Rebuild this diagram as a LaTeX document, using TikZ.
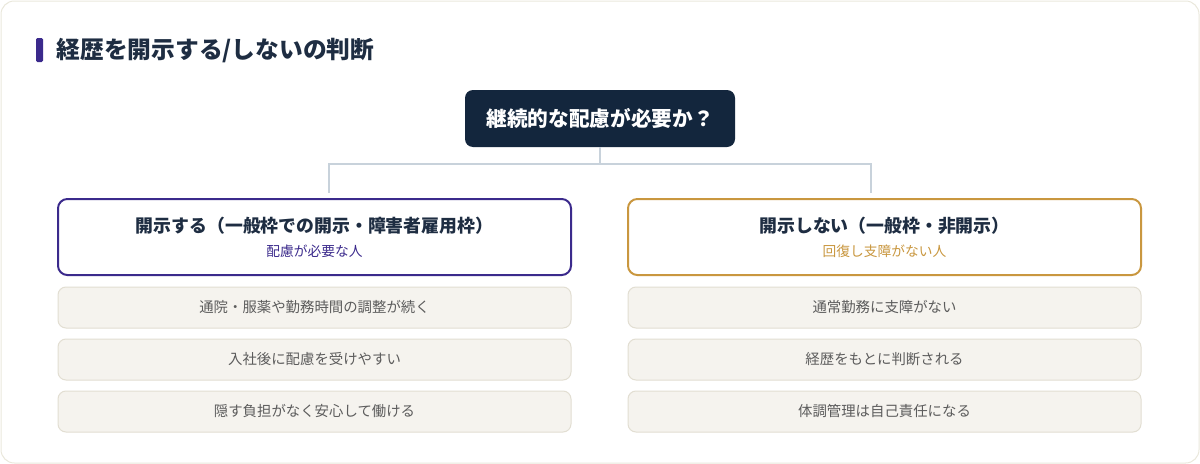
\documentclass[tikz,border=0pt]{standalone}
\usepackage{fontspec}
\setmainfont{Noto Sans CJK JP}
\definecolor{navy}{HTML}{13263D}
\definecolor{ink}{HTML}{1E2D42}
\definecolor{violet}{HTML}{3B2A8C}
\definecolor{gold}{HTML}{C9973F}
\definecolor{itemfill}{HTML}{F5F3EE}
\definecolor{itemline}{HTML}{E2DED2}
\definecolor{itemtext}{HTML}{5C5C5C}
\definecolor{wire}{HTML}{C8D2DB}
\definecolor{cardline}{HTML}{EAE8DC}
\tikzset{
  head/.style={draw, line width=1.5pt, fill=white, rounded corners=7pt,
    minimum width=384.75pt, minimum height=57pt, align=center},
  item/.style={draw=itemline, line width=.75pt, fill=itemfill, rounded corners=6pt,
    minimum width=384.75pt, minimum height=30.75pt, text=itemtext,
    font=\fontsize{10.8}{13}\selectfont},
  link/.style={draw=wire, line width=1.5pt}
}
\begin{document}
\begin{tikzpicture}[x=0.75pt,y=-0.75pt]
  \path[use as bounding box] (0,0) rectangle (1200,464);
  \draw[cardline, fill=white, line width=.75pt, rounded corners=10pt] (1,1) rectangle (1199,463);
  % title
  \fill[violet, rounded corners=1pt] (36,38) rectangle (43,62);
  \node[anchor=west, text=ink, font=\fontsize{17.8}{21}\selectfont\bfseries] (title) at (52,51) {経歴を開示する/しないの判断};
  % question
  \node[fill=navy, rounded corners=6pt, minimum width=202.5pt, minimum height=42.75pt,
    text=white, font=\fontsize{15.5}{18}\selectfont\bfseries] (q) at (600,118.5) {継続的な配慮が必要か？};
  \coordinate (fork) at (600,164);
  % two branches
  \node[head, draw=violet] (yes) at (314.5,237) {{\fontsize{13.4}{16}\selectfont\bfseries\color{ink} 開示する（一般枠での開示・障害者雇用枠）}\\[6pt]
    {\fontsize{10.3}{12}\selectfont\color{violet} 配慮が必要な人}};
  \node[head, draw=gold] (no) at (884.5,237) {{\fontsize{13.4}{16}\selectfont\bfseries\color{ink} 開示しない（一般枠・非開示）}\\[6pt]
    {\fontsize{10.3}{12}\selectfont\color{gold} 回復し支障がない人}};
  \coordinate (yesin) at (329,193);
  \coordinate (noin) at (871,193);
  \draw[link] (q.south) -- (fork);
  \draw[link] (fork) -| (yesin);
  \draw[link] (fork) -| (noin);
  % reasons
  \node[item] (yes1) at (314.5,307.5) {通院・服薬や勤務時間の調整が続く};
  \node[item] (yes2) at (314.5,359.5) {入社後に配慮を受けやすい};
  \node[item] (yes3) at (314.5,411.5) {隠す負担がなく安心して働ける};
  \node[item] (no1) at (884.5,307.5) {通常勤務に支障がない};
  \node[item] (no2) at (884.5,359.5) {経歴をもとに判断される};
  \node[item] (no3) at (884.5,411.5) {体調管理は自己責任になる};
\end{tikzpicture}
\end{document}
